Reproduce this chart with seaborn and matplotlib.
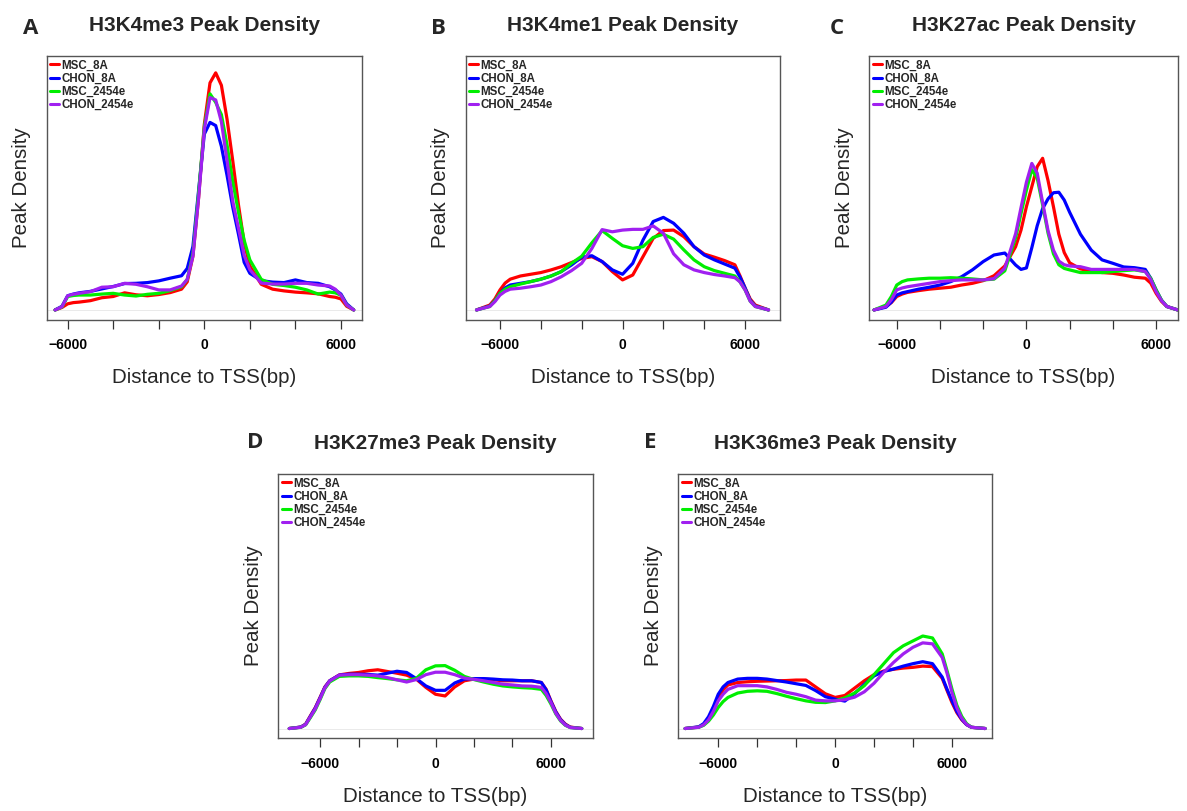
import numpy as np
import pandas as pd
import matplotlib
matplotlib.use("Agg")
import matplotlib.pyplot as plt
import seaborn as sns

# ---------------- data (arbitrary density units) ----------------
series_names = ["MSC_8A", "CHON_8A", "MSC_2454e", "CHON_2454e"]
series_colors = ["#FF0000", "#0000FF", "#00EE00", "#A020F0"]
x_ticks = [-6000, -4000, -2000, 0, 2000, 4000, 6000]
x_ticklabels = ["\u22126000", "", "", "0", "", "", "6000"]

# Panel A: H3K4me3
A_x = [-6550, -6250, -6000, -5750, -5500, -5000, -4500, -4000, -3500, -3000, -2500, -2000,
       -1500, -1000, -750, -500, -250, 0, 250, 500, 750, 1000, 1250, 1500, 1750, 2000,
       2500, 3000, 3500, 4000, 4500, 5000, 5500, 5750, 6000, 6250, 6560]
A_msc_8a = [0, 1.0, 2.5, 3.0, 3.2, 3.8, 5.0, 5.5, 7.0, 6.2, 5.8, 6.3, 7.1, 8.5, 11.5, 22, 46, 76,
            93, 97.1, 92, 78, 61, 43, 27.5, 18, 10.5, 8.5, 7.8, 7.3, 7.0, 6.6, 5.5, 5.2, 4.5, 1.5, 0]
A_chon_8a = [0, 1.5, 5.8, 6.5, 7.0, 7.6, 8.6, 9.6, 10.8, 10.9, 11.2, 11.9, 13.0, 14, 17, 26, 49,
             72, 76.8, 75.5, 67, 55, 42, 31, 19.5, 15, 12, 11.4, 11.2, 12.3, 11.2, 10.9, 9.5, 8.2,
             6.5, 2.5, 0]
A_msc_2454e = [0, 1.2, 5.5, 5.9, 6.1, 6.1, 6.5, 6.8, 6.1, 5.7, 6.4, 6.8, 7.9, 9.5, 12.5, 23, 48,
               75, 88.5, 85, 80, 67.5, 52.5, 40, 28.5, 20.5, 12.5, 10.5, 10.0, 9.3, 8.2, 6.5, 7.3,
               7.0, 6.0, 2.0, 0]
A_chon_2454e = [0, 1.3, 5.8, 6.4, 6.8, 7.5, 9.3, 9.5, 10.9, 10.5, 9.5, 8.2, 8.2, 9.8, 12.5, 22,
                46, 74, 87, 86, 77, 61, 44.5, 33.5, 22.3, 16.5, 11, 10.6, 10.6, 10.9, 10.9, 10.2,
                9.8, 8.5, 6.0, 2.0, 0]

# Panel B: H3K4me1
B_x = [-7150, -6500, -6250, -6000, -5750, -5500, -5000, -4500, -4000, -3500, -3000, -2500,
       -2000, -1500, -1000, -500, 0, 500, 1000, 1500, 2000, 2500, 3000, 3500, 4000, 4500,
       5000, 5500, 5750, 6000, 6250, 6500, 7150]
B_msc_8a = [0, 2.0, 4.5, 8.2, 11.0, 12.6, 13.9, 14.6, 15.3, 16.4, 17.7, 19.4, 21.1, 21.8, 19.8,
            15.7, 12.3, 14.3, 21.8, 29.3, 32.5, 32.7, 30.0, 25.9, 22.9, 21.6, 20.2, 18.5, 14.0,
            9.0, 4.5, 2.0, 0]
B_chon_8a = [0, 1.6, 3.8, 6.8, 9.0, 10.2, 10.9, 11.6, 12.6, 13.9, 15.7, 18.4, 21.6, 22.2, 19.8,
             16.4, 14.6, 19.1, 28.6, 36.2, 37.9, 35.5, 31.4, 25.9, 22.5, 20.5, 18.8, 17.1, 13.5,
             9.0, 4.0, 1.6, 0]
B_msc_2454e = [0, 1.4, 3.8, 6.8, 8.5, 9.5, 10.6, 11.6, 12.6, 13.9, 15.7, 19.1, 22.0, 27.5, 32.5,
               29.3, 26.3, 25.2, 25.9, 29.7, 31.0, 29.0, 24.6, 20.5, 17.7, 16.1, 15.0, 13.9, 11.5,
               8.2, 3.6, 1.4, 0]
B_chon_2454e = [0, 1.4, 3.4, 6.1, 7.6, 8.5, 8.9, 9.5, 10.2, 11.6, 13.6, 16.1, 19.1, 25.2, 32.9,
                32.0, 32.7, 33.0, 33.0, 34.4, 31.4, 23.0, 18.5, 16.4, 15.3, 14.5, 13.9, 13.2, 11.5,
                8.2, 3.6, 1.4, 0]

# Panel C: H3K27ac
C_x = [-7050, -6500, -6250, -6000, -5750, -5500, -5000, -4500, -4000, -3500, -3000, -2500,
       -2000, -1500, -1000, -500, -250, 0, 250, 500, 750, 1000, 1250, 1500, 1750, 2000,
       2500, 3000, 3500, 4000, 4500, 5000, 5500, 5750, 6000, 6250, 6500, 7000]
C_msc_8a = [0, 1.4, 3.0, 5.5, 6.5, 7.2, 7.9, 8.5, 8.9, 9.3, 10.2, 10.9, 12.0, 14.0, 18.0, 25.9,
            32.7, 42.3, 50.5, 58.7, 62.1, 53.0, 42.3, 31.0, 23.5, 19.3, 16.8, 15.9, 15.3, 15.0,
            14.3, 13.4, 13.0, 11.0, 6.8, 3.5, 1.4, 0]
C_chon_8a = [0, 1.1, 3.2, 6.1, 7.0, 7.5, 8.5, 9.3, 10.2, 11.6, 13.6, 16.4, 19.8, 22.5, 23.3,
             18.4, 16.6, 17.2, 25.5, 34.5, 41.5, 45.5, 48.0, 48.2, 45.0, 40.0, 31.0, 24.5, 20.5,
             19.1, 17.6, 17.3, 16.6, 13.0, 8.2, 4.0, 1.4, 0]
C_msc_2454e = [0, 2.0, 5.5, 10.2, 11.6, 12.3, 12.7, 13.0, 13.0, 13.2, 13.0, 12.7, 12.3, 12.6,
               16.0, 29.5, 39.5, 49.0, 57.5, 54.0, 43.0, 31.5, 23.0, 18.5, 17.0, 16.4, 15.3, 15.3,
               15.3, 15.7, 16.1, 16.4, 15.7, 13.0, 8.2, 4.0, 1.4, 0]
C_chon_2454e = [0, 1.4, 4.2, 8.2, 9.0, 9.5, 10.2, 10.9, 11.6, 12.0, 12.3, 12.3, 12.3, 12.8,
                17.1, 31.2, 41.9, 52.3, 60.0, 56.0, 44.0, 32.5, 24.5, 20.0, 18.5, 18.0, 17.7,
                16.6, 16.6, 16.6, 16.6, 16.6, 15.7, 12.5, 7.5, 3.8, 1.4, 0]

# Panel D: H3K27me3
D_x = [-7600, -7000, -6750, -6500, -6250, -6000, -5750, -5500, -5000, -4500, -4000, -3500,
       -3000, -2500, -2000, -1500, -1000, -500, 0, 500, 1000, 1500, 2000, 2500, 3000, 3500,
       4000, 4500, 5000, 5500, 5750, 6000, 6250, 6500, 6750, 7000, 7600]
D_msc_8a = [0, 0.6, 1.8, 5.2, 8.5, 12.7, 17.0, 19.5, 21.9, 22.5, 22.9, 23.6, 24.0, 23.3, 22.6,
            21.8, 20.2, 16.8, 14.0, 13.3, 17.0, 19.5, 20.2, 20.2, 19.9, 19.5, 19.5, 19.5, 19.5,
            18.8, 16.0, 11.3, 7.0, 3.8, 1.8, 0.6, 0]
D_chon_8a = [0, 0.6, 1.7, 5.0, 8.3, 12.5, 16.8, 19.5, 21.8, 22.2, 22.2, 22.1, 21.8, 22.6, 23.4,
             22.9, 20.4, 17.4, 15.6, 15.6, 18.6, 20.2, 20.4, 20.4, 20.2, 19.9, 19.8, 19.5, 19.5,
             18.8, 15.8, 11.0, 6.8, 3.6, 1.6, 0.5, 0]
D_msc_2454e = [0, 0.5, 1.5, 4.5, 7.6, 11.8, 16.3, 19.0, 21.3, 21.5, 21.5, 21.3, 20.8, 20.4,
               19.9, 19.5, 20.5, 24.0, 25.6, 25.7, 23.8, 21.3, 20.0, 19.0, 18.1, 17.4, 17.0, 16.7,
               16.5, 16.0, 13.5, 10.0, 6.0, 3.1, 1.3, 0.4, 0]
D_chon_2454e = [0, 0.5, 1.6, 4.8, 8.0, 12.2, 16.6, 19.4, 21.8, 22.0, 22.0, 21.8, 21.5, 20.8,
                19.9, 19.0, 20.0, 22.0, 23.0, 23.0, 22.0, 20.6, 20.1, 19.5, 18.8, 18.1, 17.8,
                17.4, 17.3, 16.8, 14.3, 10.6, 6.3, 3.3, 1.4, 0.4, 0]

# Panel E: H3K36me3
E_x = [-7700, -7000, -6750, -6500, -6250, -6000, -5750, -5500, -5000, -4500, -4000, -3500,
       -3000, -2500, -2000, -1500, -1000, -500, 0, 500, 1000, 1500, 2000, 2500, 3000, 3500,
       4000, 4500, 5000, 5500, 5750, 6000, 6250, 6500, 6750, 7000, 7700]
E_msc_8a = [0, 0.6, 1.6, 3.8, 7.5, 12.7, 15.8, 17.8, 18.8, 19.1, 19.3, 19.4, 19.5, 19.6, 19.8,
            19.8, 17.0, 14.2, 12.7, 13.5, 16.5, 19.5, 22.0, 23.5, 24.2, 24.7, 25.0, 25.5, 25.3,
            20.5, 15.5, 10.6, 6.5, 3.6, 1.6, 0.5, 0]
E_chon_8a = [0, 0.7, 2.0, 4.8, 9.0, 14.0, 17.0, 18.8, 20.2, 20.5, 20.5, 20.2, 19.6, 19.0, 18.3,
             17.6, 15.5, 13.0, 12.0, 11.2, 14.3, 18.0, 21.5, 23.3, 24.3, 25.5, 26.5, 27.3, 26.5,
             21.0, 16.0, 11.3, 7.0, 3.8, 1.6, 0.5, 0]
E_msc_2454e = [0, 0.5, 1.3, 3.0, 5.5, 8.6, 11.0, 12.7, 14.5, 15.2, 15.4, 15.2, 14.3, 13.2, 12.2,
               11.3, 10.7, 10.6, 11.3, 12.5, 14.5, 17.5, 22.0, 26.5, 31.0, 33.8, 35.8, 37.8, 37.0,
               30.5, 23.5, 16.1, 9.5, 5.0, 2.0, 0.5, 0]
E_chon_2454e = [0, 0.5, 1.5, 3.5, 7.0, 11.3, 14.0, 16.0, 17.5, 17.5, 17.5, 17.0, 16.0, 14.8,
                14.0, 13.0, 11.6, 11.3, 11.3, 11.8, 12.8, 15.0, 18.5, 23.0, 27.0, 30.5, 33.2,
                35.0, 34.6, 29.0, 22.5, 14.7, 8.5, 4.2, 1.7, 0.5, 0]

titles = ["H3K4me3 Peak Density", "H3K4me1 Peak Density", "H3K27ac Peak Density",
          "H3K27me3 Peak Density", "H3K36me3 Peak Density"]
letters = ["A", "B", "C", "D", "E"]

panel_data = [
    (A_x, [A_msc_8a, A_chon_8a, A_msc_2454e, A_chon_2454e]),
    (B_x, [B_msc_8a, B_chon_8a, B_msc_2454e, B_chon_2454e]),
    (C_x, [C_msc_8a, C_chon_8a, C_msc_2454e, C_chon_2454e]),
    (D_x, [D_msc_8a, D_chon_8a, D_msc_2454e, D_chon_2454e]),
    (E_x, [E_msc_8a, E_chon_8a, E_msc_2454e, E_chon_2454e]),
]

# ---------------- layout (pixels) ----------------
W, H = 1187, 811
axes_px = [(46.7, 56, 361.7, 319.7), (465.7, 56, 780, 319.7), (869.3, 56, 1177.7, 319.7),
           (278.3, 474, 592.7, 738.3), (678.3, 474, 991.7, 738.3)]
xlims = [(-6920, 6910), (-7680, 7710), (-7270, 7000), (-8170, 8170), (-8050, 8040)]
letter_pos = [(22.7, 34), (431, 34), (830, 34), (246.7, 448.3), (644, 448.3)]

sns.set_theme(style="white")
plt.rcParams["font.family"] = ["Liberation Sans", "DejaVu Sans"]

fig = plt.figure(figsize=(W / 100, H / 100), dpi=100)
fig.patch.set_facecolor("white")
palette = dict(zip(series_names, series_colors))

for i, (xs, ys) in enumerate(panel_data):
    l, t, r, b = axes_px[i]
    ax = fig.add_axes([l / W, 1 - b / H, (r - l) / W, (b - t) / H])
    df = pd.concat([pd.DataFrame({"x": xs, "y": yv, "series": name})
                    for name, yv in zip(series_names, ys)], ignore_index=True)
    sns.lineplot(data=df, x="x", y="y", hue="series", hue_order=series_names,
                 palette=palette, estimator=None, sort=False, linewidth=2.3,
                 solid_joinstyle="round", solid_capstyle="round",
                 legend=False, ax=ax)
    lines = ax.get_lines()[:4]
    ax.axhline(0, color="#E6E6E6", lw=0.6, zorder=0)
    ax.set_xlim(*xlims[i])
    ax.set_ylim(-4, 104)
    ax.set_yticks([])
    ax.set_xticks(x_ticks)
    ax.set_xticklabels(x_ticklabels, fontweight="bold", fontsize=10)
    ax.tick_params(axis="x", direction="out", length=6.5, width=0.9, color="#333333",
                   pad=7, bottom=True, labelcolor="black")
    for s in ax.spines.values():
        s.set_color("#555555")
        s.set_linewidth(1.0)
    ax.set_xlabel("Distance to TSS(bp)", fontsize=14.8)
    ax.xaxis.set_label_coords(0.5, -63.6 / (b - t))
    ax.xaxis.label.set_verticalalignment("baseline")
    ax.set_ylabel("Peak Density", fontsize=14.8)
    ax.yaxis.set_label_coords(-19.4 / (r - l), 0.5)
    ax.yaxis.label.set_verticalalignment("baseline")
    ax.set_title(titles[i], fontweight="bold", fontsize=15, pad=18.2)
    leg = ax.legend(lines, series_names, loc="upper left", frameon=False,
                    prop={"weight": "bold", "size": 8.3}, handlelength=0.8,
                    handletextpad=0.2, labelspacing=0.1, borderaxespad=0.0, borderpad=0.3)
    for lh in leg.get_lines():
        lh.set_linewidth(2.2)
    lx, ly = letter_pos[i]
    fig.text(lx / W, 1 - ly / H, letters[i], fontsize=16, fontweight="bold",
             family=["Open Sans", "DejaVu Sans"], ha="left", va="baseline")

fig.savefig("out.png", dpi=100, facecolor="white")
